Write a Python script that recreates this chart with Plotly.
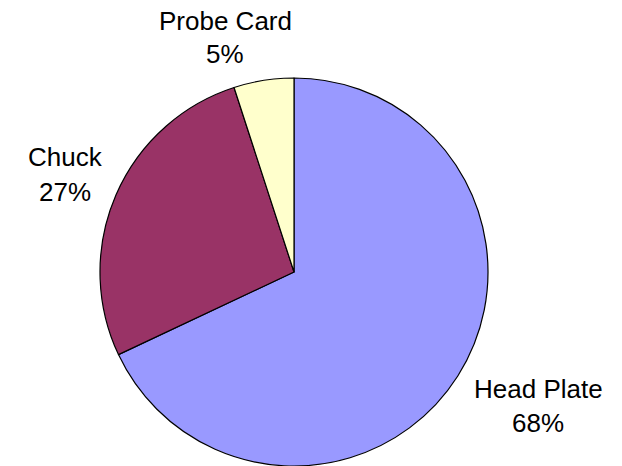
import plotly.graph_objects as go

# Share of contribution by component
components = ["Head Plate", "Chuck", "Probe Card"]
shares = [68, 27, 5]
slice_colors = ["#9999FF", "#993366", "#FFFFCC"]

W, H = 622, 466

fig = go.Figure(
    go.Pie(
        labels=components,
        values=shares,
        sort=False,
        direction="clockwise",
        rotation=0,
        marker=dict(colors=slice_colors, line=dict(color="#000000", width=1.2)),
        textinfo="none",
        hoverinfo="label+percent",
        showlegend=False,
        domain=dict(x=[100 / W, 488 / W], y=[0, 388 / H]),
    )
)

# Outside labels: name on one line, percentage below (pixel anchors -> paper coords)
label_pos = {
    "Head Plate": (538, 389, 423),
    "Chuck": (65, 157, 192),
    "Probe Card": (225, 21, 54),
}
font = dict(family="Liberation Sans, Arial, sans-serif", size=26, color="#000000")
for name, val in zip(components, shares):
    px, py1, py2 = label_pos[name]
    for txt, py in ((name, py1), (f"{val}%", py2)):
        fig.add_annotation(
            x=px / W, y=1 - py / H, xref="paper", yref="paper",
            text=txt, showarrow=False, font=font,
            xanchor="center", yanchor="middle",
        )

fig.update_layout(
    width=W, height=H,
    margin=dict(l=0, r=0, t=0, b=0),
    paper_bgcolor="#FFFFFF",
    plot_bgcolor="#FFFFFF",
)

fig.write_html("out.html")
